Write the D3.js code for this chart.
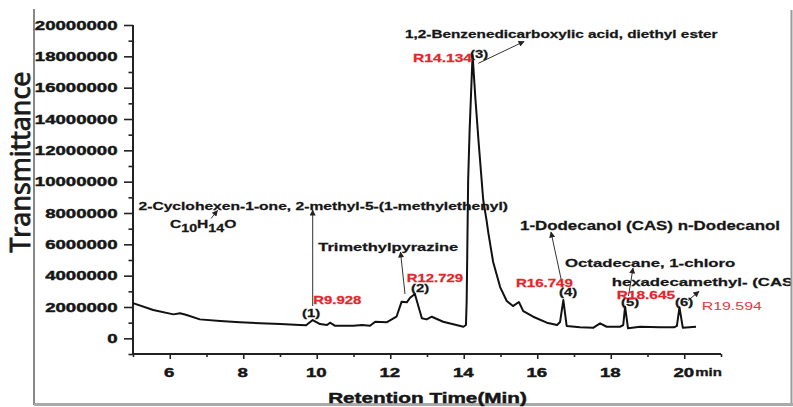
<!DOCTYPE html>
<html>
<head>
<meta charset="utf-8">
<script src="https://cdn.jsdelivr.net/npm/d3@7/dist/d3.min.js"></script>
<style>
  html, body { margin: 0; padding: 0; background: #fff; }
  svg { display: block; }
</style>
</head>
<body>
<svg id="chart" width="793" height="407"></svg>
<script>
// ---------------- DATA ----------------
const retentionTimes = [5.00,5.55,6.10,6.28,6.46,6.82,7.37,7.91,8.46,9.01,9.54,9.71,9.89,10.09,10.28,10.36,10.50,11.00,11.23,11.45,11.59,11.90,12.17,12.31,12.45,12.54,12.67,12.86,12.99,13.13,13.44,13.99,14.06,14.08,14.12,14.16,14.24,14.32,14.40,14.53,14.62,14.67,14.80,14.99,15.17,15.34,15.50,15.62,15.89,16.26,16.54,16.62,16.71,16.80,17.16,17.53,17.71,17.89,18.25,18.34,18.39,18.47,18.80,19.34,19.72,19.80,19.87,19.96,20.32];
const intensities = [2250000,1810000,1530000,1600000,1490000,1210000,1100000,1020000,960000,910000,850000,830000,1170000,910000,850000,1000000,800000,800000,850000,800000,1060000,1020000,1380000,2340000,2300000,2590000,2830000,1280000,1210000,1380000,1060000,740000,850000,2440000,10100000,13300000,18090000,15200000,12660000,8830000,7550000,6720000,4870000,3270000,2380000,2060000,2320000,1740000,1380000,1000000,850000,1040000,2440000,790000,700000,680000,960000,740000,740000,850000,2020000,640000,740000,700000,700000,800000,1980000,680000,740000];

const yTickValues = [0,2000000,4000000,6000000,8000000,10000000,12000000,14000000,16000000,18000000,20000000];
const yTickLabels = ["0","2000000","4000000","6000000","8000000","10000000","12000000","14000000","16000000","18000000","20000000"];
const xTickValues = [6,8,10,12,14,16,18,20];
const xTickLabels = ["6","8","10","12","14","16","18","20"];

const peakNumbers = ["(1)","(2)","(3)","(4)","(5)","(6)"];
const retentionLabels = ["R9.928","R12.729","R14.134","R16.749","R18.645","R19.594"];
const compoundNames = [
  "2-Cyclohexen-1-one, 2-methyl-5-(1-methylethenyl)",
  "Trimethylpyrazine",
  "1,2-Benzenedicarboxylic acid, diethyl ester",
  "1-Dodecanol (CAS) n-Dodecanol",
  "Octadecane, 1-chloro",
  "hexadecamethyl- (CAS"
];
const formulaParts = [["C",0],["10",1],["H",0],["14",1],["O",0]];

const xTitle = "Retention Time(Min)";
const yTitle = "Transmittance";
const xUnit = "min";

// ---------------- LAYOUT ----------------
const SX = 1.42;
const RED = "#e3262b";
const INK = "#161616";
const FONT = "'Liberation Sans', Arial, sans-serif";

const svg = d3.select("#chart");
const x = d3.scaleLinear().domain([5, 21]).range([133, 721]);
const y = d3.scaleLinear().domain([-1000000, 20000000]).range([354, 25]);

// clip
svg.append("defs").append("clipPath").attr("id", "frameClip")
  .append("rect").attr("x", 0).attr("y", 0).attr("width", 790.5).attr("height", 407);

// arrow marker
svg.select("defs").append("marker")
  .attr("id", "arr").attr("viewBox", "0 0 10 10")
  .attr("refX", 9).attr("refY", 5)
  .attr("markerWidth", 7).attr("markerHeight", 6)
  .attr("markerUnits", "userSpaceOnUse")
  .attr("orient", "auto")
  .append("path").attr("d", "M0,0 L10,5 L0,10 Z").attr("fill", "#222");

// frame
const frame = svg.append("g").attr("stroke", "#9a9a9a").attr("fill", "none");
frame.append("line").attr("x1", 34).attr("y1", 9).attr("x2", 34).attr("y2", 405).attr("stroke-width", 2).attr("stroke", "#888");
frame.append("line").attr("x1", 791.5).attr("y1", 10).attr("x2", 791.5).attr("y2", 405).attr("stroke-width", 2);
frame.append("line").attr("x1", 34).attr("y1", 404.5).attr("x2", 793).attr("y2", 404.5).attr("stroke-width", 3).attr("stroke", "#aaa");

function stext(g, px, py, str, opt) {
  const o = Object.assign({size: 11, weight: "bold", anchor: "start", fill: INK, sx: SX, family: FONT, thick: 0.25}, opt || {});
  return g.append("text")
    .attr("transform", `translate(${px},${py}) scale(${o.sx},1)`)
    .attr("text-anchor", o.anchor)
    .attr("font-family", o.family)
    .attr("font-size", o.size)
    .attr("font-weight", o.weight)
    .attr("fill", o.fill)
    .attr("stroke", o.fill)
    .attr("stroke-width", o.thick)
    .text(str);
}

// ---------------- AXES ----------------
const yMinor = d3.range(-1, 21, 1).filter(v => v % 2 !== 0).map(v => v * 1000000);
const yAxisMinor = d3.axisLeft(y).tickValues(yMinor).tickSize(4.5).tickFormat("");
const yAxisMajor = d3.axisLeft(y).tickValues(yTickValues).tickSize(9).tickFormat("");
const xMinor = d3.range(5, 22, 2);
const xAxisMinor = d3.axisBottom(x).tickValues(xMinor).tickSize(3).tickFormat("");
const xAxisMajor = d3.axisBottom(x).tickValues(xTickValues).tickSize(5).tickFormat("");

function styleAxis(g) {
  g.select(".domain").remove();
  g.selectAll(".tick line").attr("stroke", "#222").attr("stroke-width", 1.6);
}
svg.append("g").attr("transform", "translate(133,0)").call(yAxisMinor).call(styleAxis);
svg.append("g").attr("transform", "translate(133,0)").call(yAxisMajor).call(styleAxis);
svg.append("g").attr("transform", "translate(0,354)").call(xAxisMinor).call(styleAxis);
svg.append("g").attr("transform", "translate(0,354)").call(xAxisMajor).call(styleAxis);

// axis lines
svg.append("line").attr("x1", 133).attr("x2", 133).attr("y1", y(20000000)).attr("y2", 355)
  .attr("stroke", "#222").attr("stroke-width", 2);
svg.append("line").attr("x1", 132).attr("x2", x(21)).attr("y1", 354).attr("y2", 354)
  .attr("stroke", "#222").attr("stroke-width", 2);

// tick labels
const tl = svg.append("g");
yTickValues.forEach((v, i) => stext(tl, 117.5, y(v) + 4.6, yTickLabels[i], {size: 13, anchor: "end", sx: 1.43, thick: 0.45}));
xTickValues.forEach((v, i) => stext(tl, x(v) - 0.5, 377, xTickLabels[i], {size: 13, anchor: "middle", sx: 1.43, thick: 0.45}));
stext(tl, x(20) + 11, 376, xUnit, {size: 10.5, sx: 1.43, thick: 0.3});

// axis titles
stext(svg, 427.5, 402.5, xTitle, {size: 14.5, anchor: "middle", sx: 1.43, thick: 0.45});
svg.append("text")
  .attr("transform", "translate(30,162) rotate(-90)")
  .attr("text-anchor", "middle")
  .attr("font-family", "'Open Sans', sans-serif")
  .attr("font-size", 27)
  .attr("fill", "#1a1a1a")
  .attr("stroke", "#1a1a1a")
  .attr("stroke-width", 0.9)
  .text(yTitle);

// ---------------- CHROMATOGRAM ----------------
const pts = retentionTimes.map((t, i) => [t, intensities[i]]);
svg.append("path")
  .datum(pts)
  .attr("fill", "none")
  .attr("stroke", "#111")
  .attr("stroke-width", 2)
  .attr("stroke-linejoin", "round")
  .attr("d", d3.line().x(d => x(d[0])).y(d => y(d[1])));

// ---------------- ANNOTATIONS ----------------
const ann = svg.append("g").attr("clip-path", "url(#frameClip)");

// arrows [x1,y1,x2,y2]
const arrowLayout = [
  [312.7, 306, 312.7, 210],
  [405, 294, 400.5, 252],
  [478.3, 63.3, 524, 41.5],
  [563, 288, 551, 232],
  [628.5, 296, 633, 268],
  [688, 300.5, 699, 291.5],
  [211, 218.5, 217.5, 210.5]
];
arrowLayout.forEach(a => {
  ann.append("line")
    .attr("x1", a[0]).attr("y1", a[1]).attr("x2", a[2]).attr("y2", a[3])
    .attr("stroke", "#333").attr("stroke-width", 1)
    .attr("marker-end", "url(#arr)");
});

// compound names [x, baseline, size]
const nameLayout = [
  [138.5, 209.5, 11],
  [318.3, 250.5, 11.6],
  [405, 37.7, 10.8],
  [520, 230, 11.9],
  [565, 266.5, 11.8],
  [611.7, 286, 11.8]
];
compoundNames.forEach((n, i) => stext(ann, nameLayout[i][0], nameLayout[i][1], n, {size: nameLayout[i][2]}));

// formula C10H14O
const ft = ann.append("text")
  .attr("transform", "translate(170,228) scale(1.42,1)")
  .attr("font-family", FONT).attr("font-weight", "bold").attr("fill", INK)
  .attr("stroke", INK).attr("stroke-width", 0.25);
let prevSub = 0;
formulaParts.forEach(([s, sub]) => {
  ft.append("tspan")
    .attr("dy", (sub - prevSub) * 4)
    .attr("font-size", sub ? 10 : 11)
    .text(s);
  prevSub = sub;
});

// peak numbers [cx, baseline]
const numLayout = [[311, 316.5], [420, 292], [479, 58], [568, 296], [630, 306], [684, 306]];
peakNumbers.forEach((p, i) => stext(ann, numLayout[i][0], numLayout[i][1], p, {size: 11, anchor: "middle", weight: "bold", sx: 1.35}));

// retention labels [x, baseline, size, weight]
const rtLayout = [
  [313.3, 304, 10.5, "bold"],
  [406.7, 281.5, 10.5, "bold"],
  [413, 61.5, 11, "bold"],
  [516, 287, 10.6, "bold"],
  [616.7, 299, 10.9, "bold"],
  [701.7, 310, 11.2, "normal"]
];
retentionLabels.forEach((r, i) => stext(ann, rtLayout[i][0], rtLayout[i][1], r, {size: rtLayout[i][2], weight: rtLayout[i][3], fill: i === 5 ? "#e23a40" : RED, thick: i === 5 ? 0 : 0.25}));
</script>
</body>
</html>
